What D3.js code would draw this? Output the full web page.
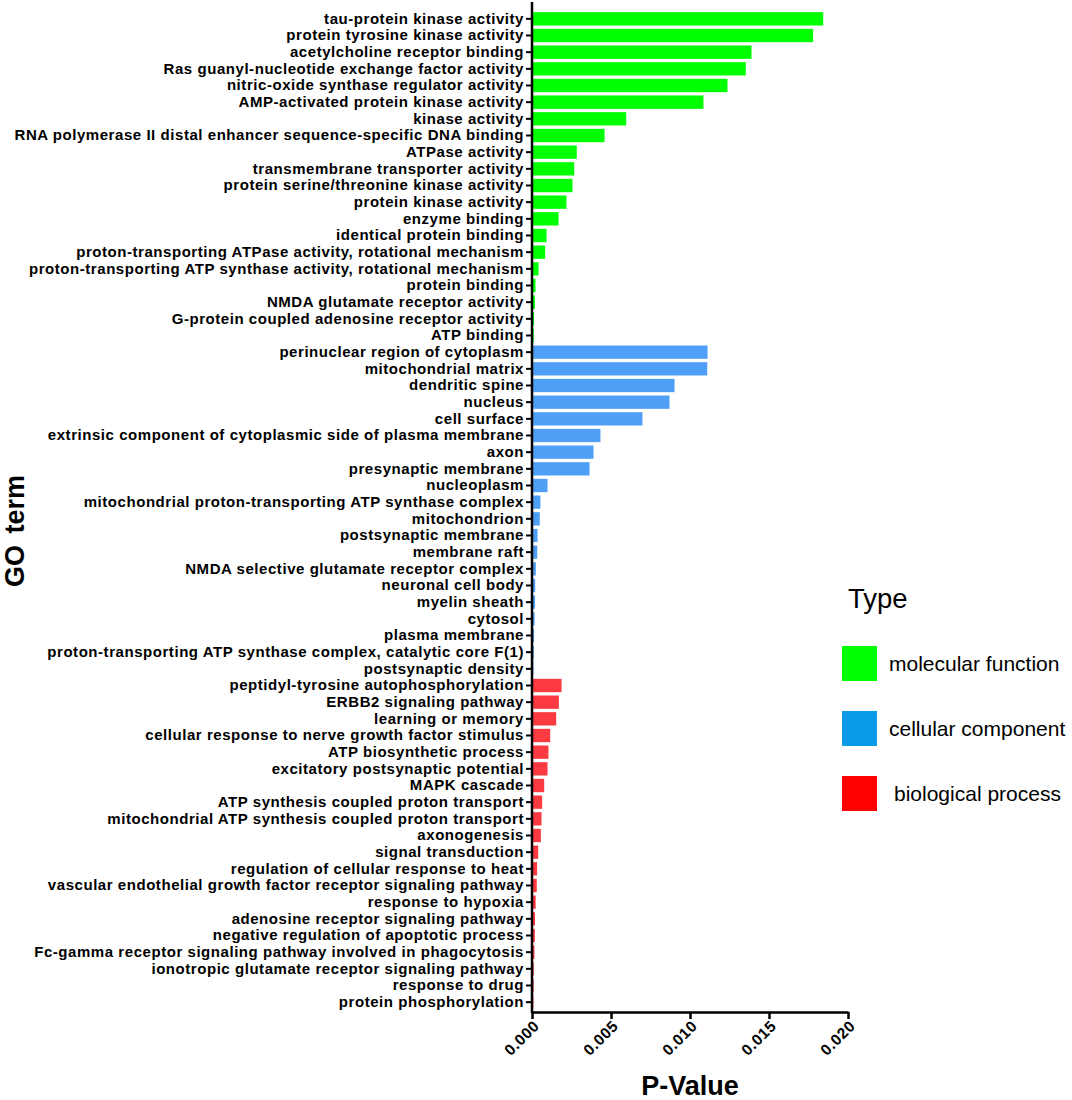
<!DOCTYPE html>
<html>
<head>
<meta charset="utf-8">
<script src="https://cdn.jsdelivr.net/npm/d3@7"></script>
<style>
  body { margin: 0; background: #fff; }
  svg { display: block; font-family: "Liberation Sans", Arial, sans-serif; }
</style>
</head>
<body>
<div id="chart"></div>
<script>
// GO enrichment bar chart, three term types stacked top to bottom

const mfTerms = [
  'tau-protein kinase activity', 'protein tyrosine kinase activity', 'acetylcholine receptor binding',
  'Ras guanyl-nucleotide exchange factor activity', 'nitric-oxide synthase regulator activity',
  'AMP-activated protein kinase activity', 'kinase activity',
  'RNA polymerase II distal enhancer sequence-specific DNA binding', 'ATPase activity',
  'transmembrane transporter activity', 'protein serine/threonine kinase activity', 'protein kinase activity',
  'enzyme binding', 'identical protein binding', 'proton-transporting ATPase activity, rotational mechanism',
  'proton-transporting ATP synthase activity, rotational mechanism', 'protein binding',
  'NMDA glutamate receptor activity', 'G-protein coupled adenosine receptor activity', 'ATP binding'
];
const mfValues = [0.0184, 0.01776, 0.01386, 0.0135, 0.01234, 0.01082, 0.00593, 0.00456, 0.0028, 0.00264,
  0.00253, 0.00215, 0.00165, 0.00089, 0.0008, 0.00038, 0.00019, 0.00015, 0.0001, 0.00008];

const ccTerms = [
  'perinuclear region of cytoplasm', 'mitochondrial matrix', 'dendritic spine', 'nucleus', 'cell surface',
  'extrinsic component of cytoplasmic side of plasma membrane', 'axon', 'presynaptic membrane', 'nucleoplasm',
  'mitochondrial proton-transporting ATP synthase complex', 'mitochondrion', 'postsynaptic membrane',
  'membrane raft', 'NMDA selective glutamate receptor complex', 'neuronal cell body', 'myelin sheath',
  'cytosol', 'plasma membrane', 'proton-transporting ATP synthase complex, catalytic core F(1)',
  'postsynaptic density'
];
const ccValues = [0.01108, 0.01106, 0.00899, 0.00867, 0.00696, 0.0043, 0.00386, 0.00361, 0.00095, 0.0005,
  0.00046, 0.00032, 0.0003, 0.00021, 0.00017, 0.00016, 0.00013, 0.0001, 0.00008, 0.00006];

const bpTerms = [
  'peptidyl-tyrosine autophosphorylation', 'ERBB2 signaling pathway', 'learning or memory',
  'cellular response to nerve growth factor stimulus', 'ATP biosynthetic process',
  'excitatory postsynaptic potential', 'MAPK cascade', 'ATP synthesis coupled proton transport',
  'mitochondrial ATP synthesis coupled proton transport', 'axonogenesis', 'signal transduction',
  'regulation of cellular response to heat', 'vascular endothelial growth factor receptor signaling pathway',
  'response to hypoxia', 'adenosine receptor signaling pathway', 'negative regulation of apoptotic process',
  'Fc-gamma receptor signaling pathway involved in phagocytosis',
  'ionotropic glutamate receptor signaling pathway', 'response to drug', 'protein phosphorylation'
];
const bpValues = [0.00184, 0.00167, 0.0015, 0.00112, 0.00101, 0.00095, 0.00074, 0.00061, 0.00057, 0.00053,
  0.00036, 0.00029, 0.00027, 0.0002, 0.00016, 0.00015, 0.00012, 0.00008, 0.00007, 0.00006];

const types = ['molecular function', 'cellular component', 'biological process'];
const xTicks = [0, 0.005, 0.010, 0.015, 0.020];

const barColors = { 'molecular function': '#00ff00', 'cellular component': '#4f9ff6', 'biological process': '#fc3a42' };
const keyColors = { 'molecular function': '#00ff00', 'cellular component': '#0a9ae8', 'biological process': '#ff0000' };

const rows = [];
[[mfTerms, mfValues], [ccTerms, ccValues], [bpTerms, bpValues]].forEach(([terms, vals], i) => {
  terms.forEach((t, j) => rows.push({ term: t, value: vals[j], type: types[i] }));
});

const W = 1072, H = 1100;
const svg = d3.select('#chart').append('svg').attr('width', W).attr('height', H);

const x = d3.scaleLinear().domain([0, 0.02]).range([532, 848]);
const y = d3.scaleBand().domain(rows.map(d => d.term)).range([10.5, 1010.5]).paddingInner(0.2).paddingOuter(0.1);

// bars
svg.append('g').selectAll('rect')
  .data(rows).join('rect')
  .attr('x', x(0) + 1)
  .attr('y', d => y(d.term))
  .attr('width', d => Math.max(0, x(d.value) - x(0) - 0.5))
  .attr('height', y.bandwidth())
  .attr('fill', d => barColors[d.type]);

// y axis
const yAxis = svg.append('g')
  .attr('transform', `translate(${x(0)},0)`)
  .call(d3.axisLeft(y).tickSize(6).tickPadding(2).tickSizeOuter(0));
yAxis.select('.domain').remove();
yAxis.selectAll('line').attr('stroke', '#000').attr('stroke-width', 2);
yAxis.selectAll('text')
  .attr('fill', '#000')
  .attr('font-size', 15)
  .attr('font-weight', 'bold')
  .attr('letter-spacing', '0.55px')
  .attr('font-family', '"Liberation Sans", Arial, sans-serif');
svg.append('line')
  .attr('x1', x(0)).attr('x2', x(0))
  .attr('y1', 2).attr('y2', 1013)
  .attr('stroke', '#000').attr('stroke-width', 2.5);

// x axis
const xAxis = svg.append('g')
  .attr('transform', 'translate(0,1012)')
  .call(d3.axisBottom(x).tickValues(xTicks).tickFormat(d3.format('.3f')).tickSize(7).tickSizeOuter(0));
xAxis.select('.domain').attr('stroke', '#000').attr('stroke-width', 2.5);
xAxis.selectAll('line').attr('stroke', '#000').attr('stroke-width', 2.5);
xAxis.selectAll('text')
  .attr('fill', '#000')
  .attr('font-size', 15.5)
  .attr('font-weight', 'bold')
  .attr('letter-spacing', '0.6px')
  .attr('font-family', '"Liberation Sans", Arial, sans-serif')
  .attr('text-anchor', 'end')
  .attr('dx', '-5px')
  .attr('dy', '6px')
  .attr('transform', 'rotate(-45)');

// axis titles
svg.append('text')
  .attr('x', 690).attr('y', 1095)
  .attr('text-anchor', 'middle')
  .attr('font-size', 27).attr('font-weight', 'bold')
  .text('P-Value');
svg.append('text')
  .attr('transform', 'translate(24,531) rotate(-90)')
  .attr('text-anchor', 'middle')
  .attr('font-size', 27).attr('font-weight', 'bold')
  .attr('word-spacing', '4px')
  .text('GO term');

// legend
const legend = svg.append('g');
legend.append('text')
  .attr('x', 848).attr('y', 608)
  .attr('font-size', 27.5)
  .text('Type');
const key = legend.selectAll('g.key')
  .data(types).join('g')
  .attr('class', 'key')
  .attr('transform', (d, i) => `translate(842,${646 + i * 65})`);
key.append('rect')
  .attr('width', 35).attr('height', 35)
  .attr('fill', d => keyColors[d]);
key.append('text')
  .attr('x', (d, i) => i === 2 ? 52 : 47).attr('y', 25)
  .attr('font-size', 21)
  .text(d => d);
</script>
</body>
</html>
